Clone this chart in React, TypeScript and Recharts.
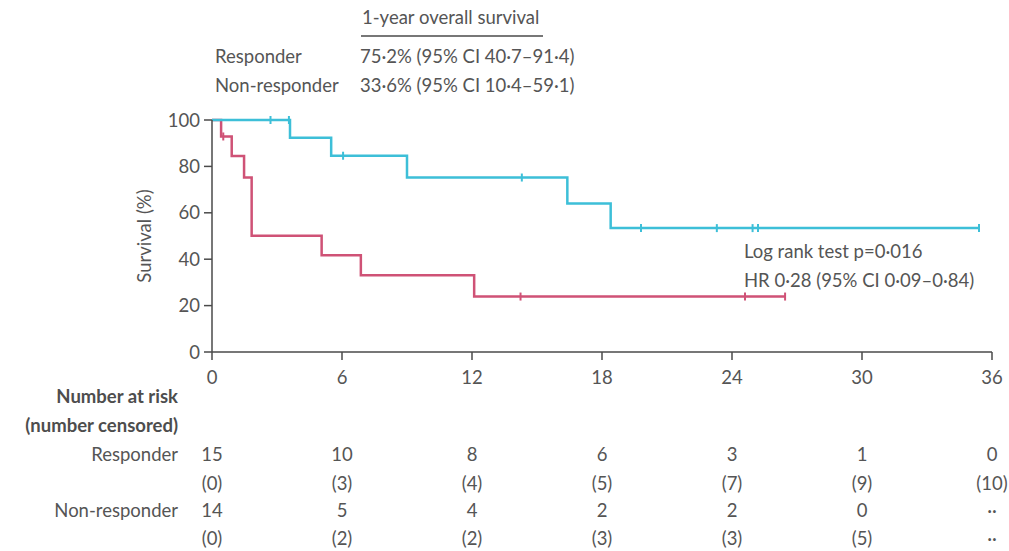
import React from "react";
import { ComposedChart, Line, Scatter, XAxis, YAxis } from "recharts";

const xTicks = [0, 6, 12, 18, 24, 30, 36];
const yTicks = [0, 20, 40, 60, 80, 100];

const responderKM = [
  { t: 0, s: 100 }, { t: 3.6, s: 92.3 }, { t: 5.5, s: 84.6 }, { t: 9.0, s: 75.2 },
  { t: 16.4, s: 64.0 }, { t: 18.4, s: 53.4 }, { t: 35.4, s: 53.4 },
];
const responderCensored = [
  { t: 2.7, s: 100 }, { t: 3.55, s: 100 }, { t: 6.05, s: 84.6 }, { t: 14.3, s: 75.2 },
  { t: 19.8, s: 53.4 }, { t: 23.3, s: 53.4 }, { t: 24.95, s: 53.4 }, { t: 25.2, s: 53.4 },
  { t: 35.4, s: 53.4 },
];
const nonResponderKM = [
  { t: 0, s: 100 }, { t: 0.42, s: 92.9 }, { t: 0.91, s: 84.5 }, { t: 1.48, s: 75.2 },
  { t: 1.83, s: 50.1 }, { t: 5.06, s: 41.7 }, { t: 6.87, s: 33.1 }, { t: 12.1, s: 23.9 },
  { t: 26.45, s: 23.9 },
];
const nonResponderCensored = [
  { t: 0.52, s: 92.9 }, { t: 14.24, s: 23.9 }, { t: 24.6, s: 23.9 }, { t: 26.45, s: 23.9 },
];

const responderAtRisk = ["15", "10", "8", "6", "3", "1", "0"];
const responderCens = ["(0)", "(3)", "(4)", "(5)", "(7)", "(9)", "(10)"];
const nonResponderAtRisk = ["14", "5", "4", "2", "2", "0", "··"];
const nonResponderCens = ["(0)", "(2)", "(2)", "(3)", "(3)", "(5)", "··"];

const CYAN = "#3dbfd8";
const RED = "#cf5276";
const TXT = "#555555";
const AXIS = "#4a4a4a";
const FONT = "Lato, 'Open Sans', sans-serif";
const FS = 18.5;

const censorShape = (color: string) => (props: any) => (
  <line x1={props.cx} x2={props.cx} y1={props.cy - 4} y2={props.cy + 4} stroke={color} strokeWidth={2} />
);

const XTickWithRisk = (p: any) => {
  const v = p.payload?.value;
  const i = xTicks.indexOf(v);
  const base = { x: p.x, textAnchor: "middle" as const, fill: TXT, fontSize: FS, fontFamily: FONT };
  return (
    <g>
      <text {...base} y={384}>{v}</text>
      <text {...base} y={461}>{responderAtRisk[i]}</text>
      <text {...base} y={490}>{responderCens[i]}</text>
      <text {...base} y={517}>{nonResponderAtRisk[i]}</text>
      <text {...base} y={545}>{nonResponderCens[i]}</text>
    </g>
  );
};

export default function App() {
  const tickStyle = { fill: TXT, fontSize: FS, fontFamily: FONT };
  return (
    <div style={{ position: "absolute", left: 0, top: 0, width: 1009, height: 551, background: "#fff" }}>
      <ComposedChart
        width={1009}
        height={551}
        margin={{ top: 120, right: 17, bottom: 0, left: 120 }}
      >
        <XAxis
          xAxisId="main"
          dataKey="t"
          type="number"
          domain={[0, 36]}
          ticks={xTicks}
          stroke={AXIS}
          strokeWidth={1.5}
          tick={XTickWithRisk}
          tickSize={8}
          tickMargin={4}
          height={199}
        />
        <YAxis
          yAxisId="main"
          type="number"
          domain={[0, 100]}
          ticks={yTicks}
          stroke={AXIS}
          strokeWidth={1.5}
          tick={tickStyle}
          tickSize={8}
          tickMargin={4}
          width={92}
          label={{ value: "Survival (%)", angle: -90, position: "insideLeft", offset: 24, style: { fill: TXT, fontSize: FS, fontFamily: FONT, textAnchor: "middle" } }}
        />
        <Line xAxisId="main" yAxisId="main" data={nonResponderKM} dataKey="s" type="stepAfter" stroke={RED} strokeWidth={2.5} dot={false} isAnimationActive={false} />
        <Line xAxisId="main" yAxisId="main" data={responderKM} dataKey="s" type="stepAfter" stroke={CYAN} strokeWidth={2.5} dot={false} isAnimationActive={false} />
        <Scatter xAxisId="main" yAxisId="main" data={nonResponderCensored} dataKey="s" shape={censorShape(RED)} isAnimationActive={false} />
        <Scatter xAxisId="main" yAxisId="main" data={responderCensored} dataKey="s" shape={censorShape(CYAN)} isAnimationActive={false} />
      </ComposedChart>
      <svg width={1009} height={551} style={{ position: "absolute", left: 0, top: 0, pointerEvents: "none" }}>
        <g fontFamily={FONT} fontSize={FS} fill={TXT}>
          <text x={362} y={24}>1-year overall survival</text>
          <line x1={361} x2={543} y1={36} y2={36} stroke={AXIS} strokeWidth={1.5} />
          <text x={215} y={63}>Responder</text>
          <text x={360} y={63}>75·2% (95% CI 40·7–91·4)</text>
          <text x={215} y={92}>Non-responder</text>
          <text x={360} y={92}>33·6% (95% CI 10·4–59·1)</text>
          <text x={744} y={258}>Log rank test p=0·016</text>
          <text x={744} y={287}>HR 0·28 (95% CI 0·09–0·84)</text>
          <text x={178} y={403} textAnchor="end" fontWeight={700} fill="#4d4d4d">Number at risk</text>
          <text x={178} y={432} textAnchor="end" fontWeight={700} fill="#4d4d4d">(number censored)</text>
          <text x={178} y={461} textAnchor="end">Responder</text>
          <text x={178} y={517} textAnchor="end">Non-responder</text>
        </g>
      </svg>
    </div>
  );
}
